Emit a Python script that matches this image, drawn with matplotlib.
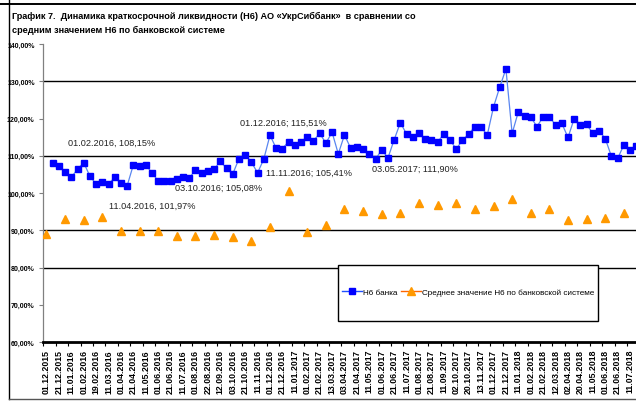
import matplotlib
matplotlib.use("Agg")
import matplotlib.pyplot as plt
import numpy as np
from matplotlib.lines import Line2D
from matplotlib.patches import Rectangle

plt.rcParams['font.family'] = ['Liberation Sans', 'DejaVu Sans']

# ---------------- data ----------------
title_line1 = "График 7.  Динамика краткосрочной ликвидности (Н6) АО «УкрСиббанк»  в сравнении со"
title_line2 = "средним значением Н6 по банковской системе"

tick_labels = [
    "01.12.2015", "21.12.2015", "11.01.2016", "01.02.2016", "19.02.2016", "11.03.2016",
    "01.04.2016", "21.04.2016", "11.05.2016", "01.06.2016", "21.06.2016", "11.07.2016",
    "01.08.2016", "22.08.2016", "12.09.2016", "03.10.2016", "21.10.2016", "11.11.2016",
    "01.12.2016", "21.12.2016", "11.01.2017", "01.02.2017", "21.02.2017", "13.03.2017",
    "03.04.2017", "21.04.2017", "11.05.2017", "01.06.2017", "21.06.2017", "11.07.2017",
    "01.08.2017", "21.08.2017", "11.09.2017", "02.10.2017", "20.10.2017", "13.11.2017",
    "01.12.2017", "21.12.2017", "11.01.2018", "01.02.2018", "21.02.2018", "12.03.2018",
    "02.04.2018", "20.04.2018", "11.05.2018", "01.06.2018", "21.06.2018", "11.07.2018",
]

# Н6 банка, one value per 10-day period starting with the 2nd period (11.12.2015)
bank_values = [
    108.0, 107.2, 105.6, 104.2, 106.4, 108.15, 104.5, 102.4, 102.9, 102.4,
    104.2, 102.6, 101.97, 107.6, 107.2, 107.5, 105.4, 103.2, 103.2, 103.2,
    103.8, 104.2, 104.0, 106.2, 105.4, 105.8, 106.4, 108.5, 106.6, 105.08,
    109.2, 110.3, 108.3, 105.41, 109.1, 115.51, 112.0, 111.9, 113.8, 112.9,
    113.8, 115.0, 114.0, 116.0, 113.4, 116.3, 110.5, 115.6, 112.0, 112.3,
    111.90, 110.5, 109.1, 111.6, 109.4, 114.3, 118.9, 115.8, 114.9, 116.0,
    114.5, 114.2, 113.7, 115.8, 114.2, 111.8, 114.2, 115.8, 117.8, 117.6,
    115.6, 123.1, 128.4, 133.3, 116.0, 121.8, 120.8, 120.4, 117.8, 120.5,
    120.5, 118.2, 118.7, 114.9, 120.0, 118.2, 118.4, 116.0, 116.7, 114.6,
    109.8, 109.3, 112.9, 111.5, 112.7,
]

# среднее значение Н6 по банковской системе, monthly (1st of each month from 01.12.2015)
system_values = [
    89.1, 92.9, 92.7, 93.6, 89.7, 89.8, 89.8, 88.5, 88.4, 88.7,
    88.3, 87.2, 90.9, 100.5, 89.4, 91.3, 95.6, 95.3, 94.3, 94.7,
    97.2, 96.7, 97.4, 95.8, 96.5, 98.4, 94.7, 95.8, 92.7, 92.9,
    93.3, 94.7,
]

annotation_texts = [
    "01.02.2016, 108,15%", "11.04.2016, 101,97%", "03.10.2016; 105,08%",
    "01.12.2016; 115,51%", "11.11.2016; 105,41%", "03.05.2017; 111,90%",
]

legend_labels = ["Н6 банка", "Среднее значение Н6 по банковской системе"]
y_ticks = [60, 70, 80, 90, 100, 110, 120, 130, 140]
y_ticklabels = ["60,00%", "70,00%", "80,00%", "90,00%", "100,00%", "110,00%",
                "120,00%", "130,00%", "140,00%"]
grid_levels = [130, 110, 90, 80]

# ---------------- figure ----------------
W, H = 636, 414
fig = plt.figure(figsize=(W / 100, H / 100), dpi=100)
fig.patch.set_facecolor("white")


def fx(px):
    return px / W


def fy(py):
    return 1 - py / H


ax_l, ax_r, ax_t, ax_b = 43, 636, 45, 343
ax = fig.add_axes([fx(ax_l), fy(ax_b), fx(ax_r) - fx(ax_l), fy(ax_t) - fy(ax_b)])

x_bank = np.arange(1, 1 + len(bank_values))
x_sys = np.arange(0, 3 * len(system_values), 3)

for g in grid_levels:
    ax.axhline(g, color="black", lw=1.0, zorder=1)

ax.plot(x_bank, bank_values, color="#5A86F0", lw=0.9, marker="s", markersize=4.4,
        markerfacecolor="#0000FF", markeredgecolor="#0000FF", zorder=3)
ax.plot(x_sys, system_values, linestyle="none", marker="^", markersize=5.6,
        markerfacecolor="#FF9900", markeredgecolor="#FF9900", zorder=3)

ax.set_ylim(60, 140)
ax.set_xlim(-0.56, 94.95)

ax.set_yticks(y_ticks)
ax.set_yticklabels(y_ticklabels, fontsize=5, fontweight="bold")
ax.tick_params(axis="y", direction="out", length=3, width=0.8, color="#808080", pad=3)

label_pos = np.arange(0, 2 * len(tick_labels), 2)
ax.set_xticks(label_pos)
ax.set_xticklabels(tick_labels, rotation=90, fontsize=6.3, fontweight="bold")
ax.tick_params(axis="x", length=0, pad=5)
ax.set_xticks(label_pos - 0.5, minor=True)
ax.tick_params(axis="x", which="minor", direction="out", length=3, width=0.8)

for s in ["top", "right"]:
    ax.spines[s].set_visible(False)
ax.spines["left"].set_color("#808080")
ax.spines["left"].set_linewidth(0.9)
ax.spines["bottom"].set_color("black")
ax.spines["bottom"].set_linewidth(2.0)

# data labels
ann_pos = [(3.46, 113.7), (10.07, 96.8), (20.7, 101.6), (31.2, 119.0), (35.3, 105.55), (52.5, 106.6)]
for txt, (xx, yy) in zip(annotation_texts, ann_pos):
    ax.text(xx, yy, txt, fontsize=6.6, color="#222222", ha="left", va="center", zorder=4)

# legend box
fig.add_artist(Rectangle((fx(338), fy(322)), fx(598) - fx(338), fy(266) - fy(322),
                         transform=fig.transFigure, facecolor="white", edgecolor="black",
                         lw=1.0, zorder=5))
handles = [
    Line2D([0], [0], color="#2050FF", lw=1.0, marker="s", markersize=4.4,
           markerfacecolor="#0000FF", markeredgecolor="#0000FF"),
    Line2D([0], [0], color="#FF6600", lw=1.0, marker="^", markersize=5.2,
           markerfacecolor="#FF9900", markeredgecolor="#FF9900"),
]
leg = fig.legend(handles, legend_labels, loc="center", bbox_to_anchor=(fx(468), fy(293)),
                 ncol=2, frameon=False, fontsize=5.9, handlelength=2.4, handletextpad=0.1,
                 columnspacing=0.5, borderpad=0.2)
leg.set_zorder(6)

# titles
fig.text(fx(12), fy(16), title_line1, fontsize=6.6, fontweight="bold", ha="left", va="center")
fig.text(fx(12), fy(30), title_line2, fontsize=6.6, fontweight="bold", ha="left", va="center")

# outer frame lines
fig.add_artist(Line2D([0, 1], [fy(4.5), fy(4.5)], transform=fig.transFigure, color="black", lw=1.4))
fig.add_artist(Line2D([fx(8.5), fx(8.5)], [fy(0), fy(400)], transform=fig.transFigure, color="black", lw=1.0))
fig.add_artist(Line2D([fx(8.5), 1], [fy(400), fy(400)], transform=fig.transFigure, color="#555555", lw=1.0))

fig.savefig("out.png", dpi=100)
